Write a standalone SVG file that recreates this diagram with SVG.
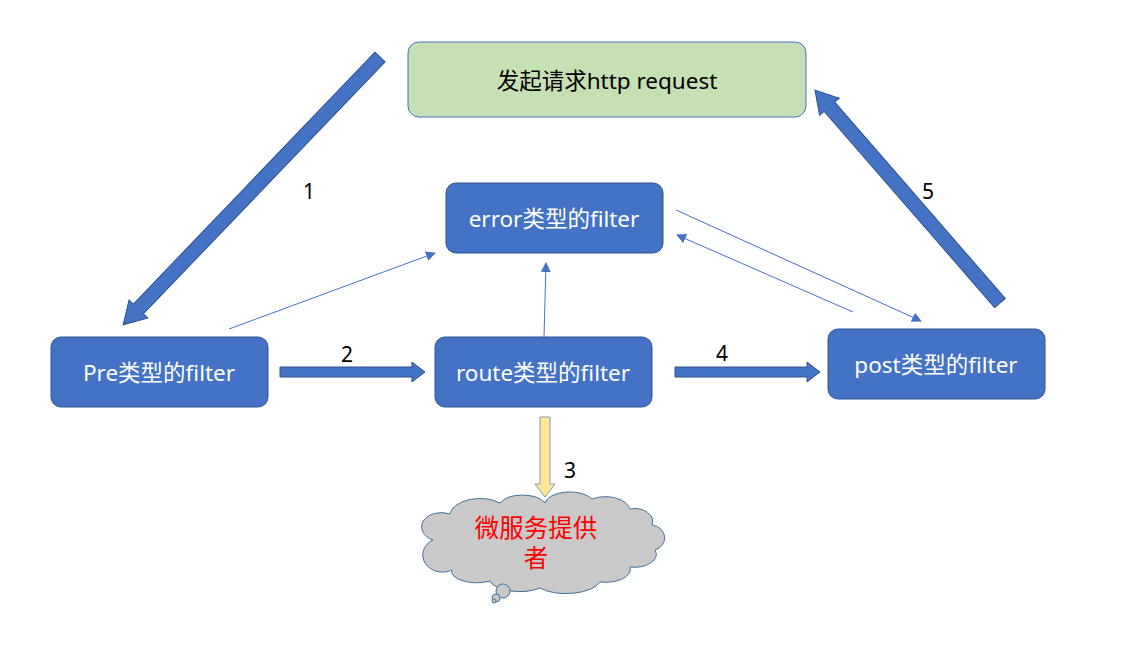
<svg xmlns="http://www.w3.org/2000/svg" width="1137" height="646" viewBox="0 0 1137 646">
<defs>
<style>
.box{fill:#4472C4;stroke:#2F528F;stroke-width:1}
.lbl{font-family:"Noto Sans","Noto Sans CJK SC",sans-serif;font-size:22.5px;fill:#fff;text-anchor:middle;dominant-baseline:central}
.num{font-family:"Noto Sans","Noto Sans CJK SC",sans-serif;font-size:21px;fill:#000;text-anchor:middle;dominant-baseline:central}
.big{fill:#4472C4;stroke:#2F528F;stroke-width:1}
.thin{stroke:#4472C4;stroke-width:1;fill:none;marker-end:url(#ah)}
.cl{fill:#C9C9C9;stroke:#41719C;stroke-width:1}
</style>
<marker id="ah" viewBox="0 0 10 10" refX="9" refY="5" markerWidth="10" markerHeight="10" markerUnits="userSpaceOnUse" orient="auto">
<path d="M0,0 L10,5 L0,10 Z" fill="#4472C4"/>
</marker>
</defs>
<rect width="1137" height="646" fill="#fff"/>
<g id="connectors">
<polygon class="big" transform="translate(380,57) rotate(133.8)" points="0,-7 349,-7 349,-13 371,0 349,13 349,7 0,7"/>
<polygon class="big" transform="translate(1000,303) rotate(-131)" points="0,-7 260,-7 260,-13 282,0 260,13 260,7 0,7"/>
<polygon class="big" points="280,367 412,367 412,362 425,372 412,382 412,377 280,377"/>
<polygon class="big" points="675,367 807,367 807,362 820,372 807,382 807,377 675,377"/>
<polygon points="540,417 550,417 550,484 555,484 545,497 535,484 540,484" fill="#FFE699" stroke="#8497B0" stroke-width="1"/>
<line class="thin" x1="229" y1="329" x2="435" y2="253"/>
<line class="thin" x1="544" y1="337" x2="546" y2="263"/>
<line class="thin" x1="676" y1="210" x2="921" y2="321"/>
<line class="thin" x1="853" y1="312" x2="677" y2="235"/>
<text class="num" x="309" y="191">1</text>
<text class="num" x="347" y="354">2</text>
<text class="num" x="570" y="470">3</text>
<text class="num" x="722" y="353">4</text>
<text class="num" x="928" y="191">5</text>
</g>
<g id="request">
<rect x="408" y="42" width="398" height="75" rx="11" fill="#C5E0B4" stroke="#4472C4" stroke-width="1"/>
<text class="lbl" x="607" y="80" style="fill:#000">发起请求http request</text>
</g>
<g id="error">
<rect class="box" x="446" y="183" width="217" height="70" rx="10"/>
<text class="lbl" x="554" y="218">error类型的filter</text>
</g>
<g id="pre">
<rect class="box" x="51" y="337" width="217" height="70" rx="10"/>
<text class="lbl" x="159" y="372">Pre类型的filter</text>
</g>
<g id="route">
<rect class="box" x="435" y="337" width="217" height="70" rx="10"/>
<text class="lbl" x="543" y="372">route类型的filter</text>
</g>
<g id="post">
<rect class="box" x="828" y="329" width="217" height="70" rx="10"/>
<text class="lbl" x="936" y="364">post类型的filter</text>
</g>
<g id="provider">
<path class="cl" d="M433,540 A18,13 0 0 1 450,514 A30,17 0 0 1 500,503 A25,14 0 0 1 545,503 A25,13 0 0 1 592,499 A25,15 0 0 1 630,509 A18,13 0 0 1 652,525 A15,13 0 0 1 655,550 A22,13 0 0 1 630,567 A25,13 0 0 1 600,582 A35,16 0 0 1 540,588 A30,13 0 0 1 490,581 A25,11 0 0 1 452,570 A15,13 0 0 1 433,540 Z"/>
<circle class="cl" cx="503" cy="591" r="7"/>
<circle class="cl" cx="496" cy="598" r="4"/>
<circle class="cl" cx="494" cy="601" r="2"/>
<text class="lbl" x="536" y="527" style="fill:#FF0000;font-size:24.5px">微服务提供<tspan x="536" y="557">者</tspan></text>
</g>
</svg>
